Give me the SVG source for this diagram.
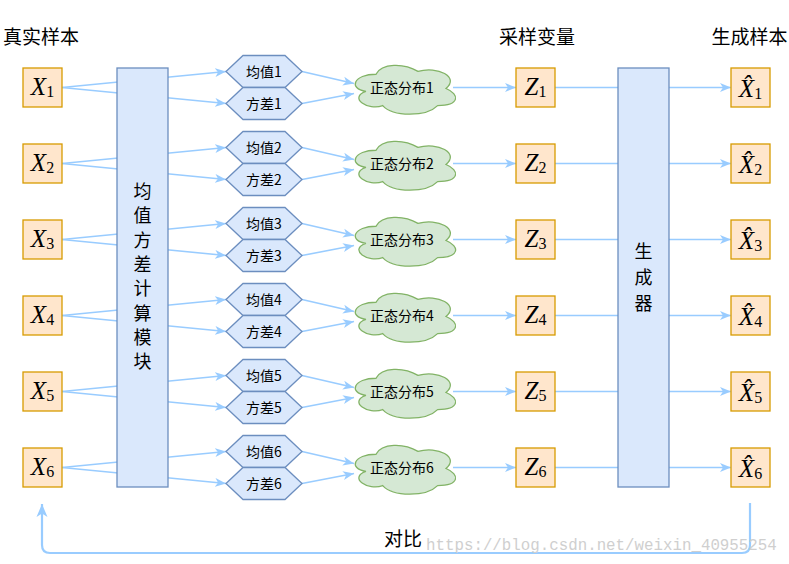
<svg xmlns="http://www.w3.org/2000/svg" width="789" height="564" viewBox="0 0 789 564">
<style>
.cn{font-family:"Noto Sans CJK SC","Noto Sans",sans-serif;fill:#000}
.hd{font-size:19px}
.lb{font-size:14px}
.vt{font-size:18px}
.m{font-family:"Liberation Serif",serif;fill:#000}
.mv{font-style:italic;font-size:25px}
.ms{font-size:16px}
.ob{fill:#ffe6cc;stroke:#d79b00;stroke-width:1.3}
.bb{fill:#dae8fc;stroke:#6c8ebf;stroke-width:1.3}
.gb{fill:#d5e8d4;stroke:#82b366;stroke-width:1.3}
.ln{fill:none;stroke:#99ccff;stroke-width:1.6}
.ar{marker-end:url(#ah)}
.wm{font-family:"Liberation Mono",monospace;font-size:15.8px;fill:#cfcfcf}
</style>
<defs>
<marker id="ah" markerUnits="userSpaceOnUse" markerWidth="12" markerHeight="10" refX="11" refY="5" orient="auto">
<path d="M0,0.5 L11,5 L0,9.5 L3,5 Z" fill="#99ccff"/>
</marker>
<marker id="ah2" markerUnits="userSpaceOnUse" markerWidth="14" markerHeight="12" refX="13" refY="6" orient="auto">
<path d="M0,0.5 L13,6 L0,11.5 L3.5,6 Z" fill="#99ccff"/>
</marker>
<path id="hex" d="M0,16 L17,0 L59,0 L76,16 L59,32 L17,32 Z"/>
<path id="cloud" d="M28,14.25 C5.6,14.25 0,28.5 17.92,31.35 C0,37.62 20.16,51.3 34.72,45.6 C44.8,57 78.4,57 89.6,45.6 C112,45.6 112,34.2 98,28.5 C112,17.1 89.6,5.7 70,11.4 C56,2.85 33.6,2.850 28,14.25 Z"/>
<g id="rowlines">
<path class="ln ar" d="M62,87.5 L226,71.5"/>
<path class="ln ar" d="M62,87.5 L226,103.5"/>
<path class="ln ar" d="M302,71.5 L354,83.5"/>
<path class="ln ar" d="M302,103.5 L354,93.5"/>
<path class="ln ar" d="M453,87.5 L516,87.5"/>
<path class="ln ar" d="M555,87.5 L731,87.5"/>
</g>
</defs>
<g id="connectors">
<use href="#rowlines" y="0"/>
<use href="#rowlines" y="76"/>
<use href="#rowlines" y="152"/>
<use href="#rowlines" y="228"/>
<use href="#rowlines" y="304"/>
<use href="#rowlines" y="380"/>
<path class="ln" style="stroke-width:2.2" marker-end="url(#ah2)" d="M750,503 V545 Q750,553 742,553 H50 Q42,553 42,545 V504"/>
</g>
<text class="wm" x="426" y="550">https://blog.csdn.net/weixin_40955254</text>
<g id="headers">
<text class="cn hd" x="3" y="44">真实样本</text>
<text class="cn hd" x="537" y="44" text-anchor="middle">采样变量</text>
<text class="cn hd" x="749.5" y="44" text-anchor="middle">生成样本</text>
<text class="cn hd" x="403" y="546" text-anchor="middle">对比</text>
</g>
<g id="mean-var-module">
<rect class="bb" x="117" y="68" width="51" height="419"/>
<text class="cn vt" x="142.5" text-anchor="middle"><tspan x="142.5" y="198">均</tspan><tspan x="142.5" y="222.3">值</tspan><tspan x="142.5" y="246.6">方</tspan><tspan x="142.5" y="270.9">差</tspan><tspan x="142.5" y="295.2">计</tspan><tspan x="142.5" y="319.5">算</tspan><tspan x="142.5" y="343.8">模</tspan><tspan x="142.5" y="368.1">块</tspan></text>
</g>
<g id="generator">
<rect class="bb" x="618" y="68" width="51" height="419"/>
<text class="cn vt" x="643.5" text-anchor="middle"><tspan x="643.5" y="258">生</tspan><tspan x="643.5" y="284">成</tspan><tspan x="643.5" y="310">器</tspan></text>
</g>
<g id="x1"><rect class="ob" x="23" y="68" width="39" height="39"/><text class="m" x="42.5" y="95" text-anchor="middle"><tspan class="mv">X</tspan><tspan class="ms" dy="2">1</tspan></text></g>
<g id="x2"><rect class="ob" x="23" y="144" width="39" height="39"/><text class="m" x="42.5" y="171" text-anchor="middle"><tspan class="mv">X</tspan><tspan class="ms" dy="2">2</tspan></text></g>
<g id="x3"><rect class="ob" x="23" y="220" width="39" height="39"/><text class="m" x="42.5" y="247" text-anchor="middle"><tspan class="mv">X</tspan><tspan class="ms" dy="2">3</tspan></text></g>
<g id="x4"><rect class="ob" x="23" y="296" width="39" height="39"/><text class="m" x="42.5" y="323" text-anchor="middle"><tspan class="mv">X</tspan><tspan class="ms" dy="2">4</tspan></text></g>
<g id="x5"><rect class="ob" x="23" y="372" width="39" height="39"/><text class="m" x="42.5" y="399" text-anchor="middle"><tspan class="mv">X</tspan><tspan class="ms" dy="2">5</tspan></text></g>
<g id="x6"><rect class="ob" x="23" y="448" width="39" height="39"/><text class="m" x="42.5" y="475" text-anchor="middle"><tspan class="mv">X</tspan><tspan class="ms" dy="2">6</tspan></text></g>
<g id="mean1"><use href="#hex" class="bb" x="226" y="55.5"/><text class="cn lb" x="264" y="76.5" text-anchor="middle">均值1</text></g>
<g id="var1"><use href="#hex" class="bb" x="226" y="87.5"/><text class="cn lb" x="264" y="108.5" text-anchor="middle">方差1</text></g>
<g id="mean2"><use href="#hex" class="bb" x="226" y="131.5"/><text class="cn lb" x="264" y="152.5" text-anchor="middle">均值2</text></g>
<g id="var2"><use href="#hex" class="bb" x="226" y="163.5"/><text class="cn lb" x="264" y="184.5" text-anchor="middle">方差2</text></g>
<g id="mean3"><use href="#hex" class="bb" x="226" y="207.5"/><text class="cn lb" x="264" y="228.5" text-anchor="middle">均值3</text></g>
<g id="var3"><use href="#hex" class="bb" x="226" y="239.5"/><text class="cn lb" x="264" y="260.5" text-anchor="middle">方差3</text></g>
<g id="mean4"><use href="#hex" class="bb" x="226" y="283.5"/><text class="cn lb" x="264" y="304.5" text-anchor="middle">均值4</text></g>
<g id="var4"><use href="#hex" class="bb" x="226" y="315.5"/><text class="cn lb" x="264" y="336.5" text-anchor="middle">方差4</text></g>
<g id="mean5"><use href="#hex" class="bb" x="226" y="359.5"/><text class="cn lb" x="264" y="380.5" text-anchor="middle">均值5</text></g>
<g id="var5"><use href="#hex" class="bb" x="226" y="391.5"/><text class="cn lb" x="264" y="412.5" text-anchor="middle">方差5</text></g>
<g id="mean6"><use href="#hex" class="bb" x="226" y="435.5"/><text class="cn lb" x="264" y="456.5" text-anchor="middle">均值6</text></g>
<g id="var6"><use href="#hex" class="bb" x="226" y="467.5"/><text class="cn lb" x="264" y="488.5" text-anchor="middle">方差6</text></g>
<g id="dist1"><use href="#cloud" class="gb" x="348" y="60"/><text class="cn lb" x="402" y="93" text-anchor="middle">正态分布1</text></g>
<g id="dist2"><use href="#cloud" class="gb" x="348" y="136"/><text class="cn lb" x="402" y="169" text-anchor="middle">正态分布2</text></g>
<g id="dist3"><use href="#cloud" class="gb" x="348" y="212"/><text class="cn lb" x="402" y="245" text-anchor="middle">正态分布3</text></g>
<g id="dist4"><use href="#cloud" class="gb" x="348" y="288"/><text class="cn lb" x="402" y="321" text-anchor="middle">正态分布4</text></g>
<g id="dist5"><use href="#cloud" class="gb" x="348" y="364"/><text class="cn lb" x="402" y="397" text-anchor="middle">正态分布5</text></g>
<g id="dist6"><use href="#cloud" class="gb" x="348" y="440"/><text class="cn lb" x="402" y="473" text-anchor="middle">正态分布6</text></g>
<g id="z1"><rect class="ob" x="516" y="68" width="39" height="39"/><text class="m" x="535.5" y="95" text-anchor="middle"><tspan class="mv">Z</tspan><tspan class="ms" dy="2">1</tspan></text></g>
<g id="z2"><rect class="ob" x="516" y="144" width="39" height="39"/><text class="m" x="535.5" y="171" text-anchor="middle"><tspan class="mv">Z</tspan><tspan class="ms" dy="2">2</tspan></text></g>
<g id="z3"><rect class="ob" x="516" y="220" width="39" height="39"/><text class="m" x="535.5" y="247" text-anchor="middle"><tspan class="mv">Z</tspan><tspan class="ms" dy="2">3</tspan></text></g>
<g id="z4"><rect class="ob" x="516" y="296" width="39" height="39"/><text class="m" x="535.5" y="323" text-anchor="middle"><tspan class="mv">Z</tspan><tspan class="ms" dy="2">4</tspan></text></g>
<g id="z5"><rect class="ob" x="516" y="372" width="39" height="39"/><text class="m" x="535.5" y="399" text-anchor="middle"><tspan class="mv">Z</tspan><tspan class="ms" dy="2">5</tspan></text></g>
<g id="z6"><rect class="ob" x="516" y="448" width="39" height="39"/><text class="m" x="535.5" y="475" text-anchor="middle"><tspan class="mv">Z</tspan><tspan class="ms" dy="2">6</tspan></text></g>
<g id="xh1"><rect class="ob" x="731" y="68" width="39" height="39"/><text class="m" x="750.5" y="97" text-anchor="middle"><tspan class="mv">X̂</tspan><tspan class="ms" dy="2">1</tspan></text></g>
<g id="xh2"><rect class="ob" x="731" y="144" width="39" height="39"/><text class="m" x="750.5" y="173" text-anchor="middle"><tspan class="mv">X̂</tspan><tspan class="ms" dy="2">2</tspan></text></g>
<g id="xh3"><rect class="ob" x="731" y="220" width="39" height="39"/><text class="m" x="750.5" y="249" text-anchor="middle"><tspan class="mv">X̂</tspan><tspan class="ms" dy="2">3</tspan></text></g>
<g id="xh4"><rect class="ob" x="731" y="296" width="39" height="39"/><text class="m" x="750.5" y="325" text-anchor="middle"><tspan class="mv">X̂</tspan><tspan class="ms" dy="2">4</tspan></text></g>
<g id="xh5"><rect class="ob" x="731" y="372" width="39" height="39"/><text class="m" x="750.5" y="401" text-anchor="middle"><tspan class="mv">X̂</tspan><tspan class="ms" dy="2">5</tspan></text></g>
<g id="xh6"><rect class="ob" x="731" y="448" width="39" height="39"/><text class="m" x="750.5" y="477" text-anchor="middle"><tspan class="mv">X̂</tspan><tspan class="ms" dy="2">6</tspan></text></g>
</svg>
